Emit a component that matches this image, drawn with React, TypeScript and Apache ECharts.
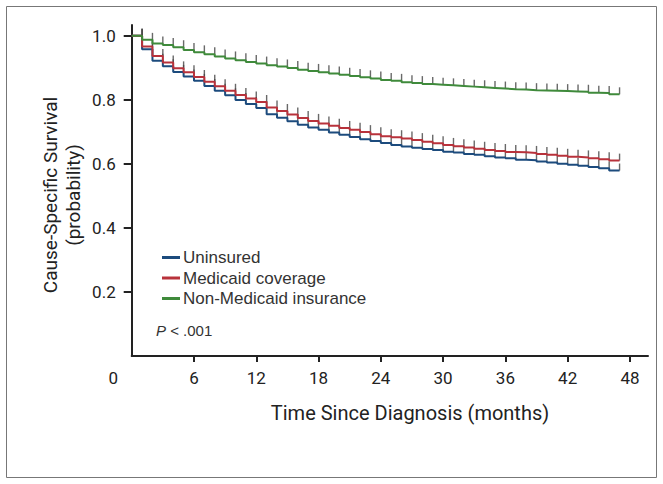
import React, { useEffect, useRef } from "react";
import * as echarts from "echarts";

// Survival level on [month i, month i+1); the last level runs to END_MONTH
const uninsured = [1.0, 0.958, 0.922, 0.905, 0.887, 0.873, 0.859, 0.843, 0.828, 0.814, 0.799, 0.787, 0.774, 0.755, 0.744, 0.733, 0.722, 0.713, 0.706, 0.698, 0.691, 0.684, 0.677, 0.671, 0.665, 0.659, 0.654, 0.65, 0.646, 0.643, 0.638, 0.635, 0.631, 0.628, 0.624, 0.62, 0.617, 0.613, 0.611, 0.607, 0.604, 0.6, 0.597, 0.594, 0.59, 0.586, 0.579];
const medicaid = [1.0, 0.966, 0.937, 0.916, 0.898, 0.886, 0.871, 0.856, 0.842, 0.828, 0.815, 0.804, 0.793, 0.776, 0.765, 0.754, 0.743, 0.734, 0.726, 0.719, 0.712, 0.706, 0.699, 0.692, 0.686, 0.683, 0.679, 0.674, 0.669, 0.664, 0.659, 0.655, 0.651, 0.647, 0.643, 0.64, 0.637, 0.636, 0.634, 0.631, 0.628, 0.625, 0.622, 0.62, 0.617, 0.614, 0.61];
const nonMedicaid = [1.0, 0.987, 0.976, 0.971, 0.964, 0.955, 0.948, 0.942, 0.935, 0.929, 0.923, 0.918, 0.913, 0.908, 0.904, 0.899, 0.894, 0.89, 0.886, 0.882, 0.878, 0.874, 0.87, 0.866, 0.862, 0.859, 0.855, 0.852, 0.849, 0.847, 0.845, 0.843, 0.841, 0.839, 0.837, 0.835, 0.833, 0.832, 0.83, 0.829, 0.828, 0.827, 0.826, 0.825, 0.822, 0.821, 0.817];
const END_MONTH = 47;

const seriesNames = ["Uninsured", "Medicaid coverage", "Non-Medicaid insurance"];
const seriesColors = ["#1c4b7d", "#b8323b", "#3f8a3b"];
const xTicks = [0, 6, 12, 18, 24, 30, 36, 42, 48];
const yTicks = [0.2, 0.4, 0.6, 0.8, 1.0];

const xTitle = "Time Since Diagnosis (months)";
const yTitle1 = "Cause-Specific Survival";
const yTitle2 = "(probability)";

function stepData(vals: number[]) {
  const d = vals.map((v, i) => [i, v]);
  d.push([END_MONTH, vals[vals.length - 1]]);
  return d;
}
function censorData(vals: number[]) {
  const d: number[][] = [];
  for (let i = 1; i < vals.length; i++) d.push([i, vals[i - 1]]);
  d.push([END_MONTH, vals[vals.length - 1]]);
  return d;
}

export default function App() {
  const ref = useRef<HTMLDivElement>(null);
  useEffect(() => {
    document.body.style.margin = "0";
    const chart = echarts.init(ref.current!, null, { renderer: "svg" });
    const all = [uninsured, medicaid, nonMedicaid];
    const series: any[] = [];
    all.forEach((vals, k) => {
      series.push({
        name: seriesNames[k],
        type: "line",
        step: "end",
        data: stepData(vals),
        symbol: "none",
        lineStyle: { color: seriesColors[k], width: 2 },
        itemStyle: { color: seriesColors[k] },
        z: 3,
      });
    });
    all.forEach((vals) => {
      series.push({
        type: "scatter",
        data: censorData(vals),
        symbol: "rect",
        symbolSize: [1.4, 7],
        symbolOffset: [0, "-50%"],
        itemStyle: { color: "#444" },
        silent: true,
        z: 2,
      });
    });
    chart.setOption({
      animation: false,
      grid: { left: 131.7, right: 15, top: 25, bottom: 128, containLabel: false },
      xAxis: {
        type: "value",
        min: 0,
        max: 49.74,
        axisLine: { show: true, lineStyle: { color: "#222", width: 2 } },
        axisTick: { show: true, length: 6, lineStyle: { color: "#222", width: 2 }, customValues: xTicks.slice(1) },
        axisLabel: {
          customValues: xTicks,
          margin: 13,
          fontSize: 17,
          fontFamily: "Roboto",
          color: "#222",
          formatter: (v: number) => (v === 0 ? "{z|0}" : String(v)),
          rich: { z: { fontSize: 17, fontFamily: "Roboto", color: "#222", padding: [0, 37, 0, 0] } },
        },
        splitLine: { show: false },
      },
      yAxis: {
        type: "value",
        min: 0,
        max: 1.0334,
        axisLine: { show: true, lineStyle: { color: "#222", width: 2 } },
        axisTick: { show: true, length: 8, lineStyle: { color: "#222", width: 2 }, customValues: yTicks },
        axisLabel: {
          customValues: yTicks,
          margin: 16,
          fontSize: 17,
          fontFamily: "Roboto",
          color: "#222",
          formatter: (v: number) => v.toFixed(1),
        },
        splitLine: { show: false },
      },
      legend: {
        data: seriesNames,
        orient: "vertical",
        left: 157,
        top: 244,
        icon: "rect",
        itemWidth: 18,
        itemHeight: 3,
        itemGap: 3.5,
        textStyle: { fontSize: 17, lineHeight: 17, fontFamily: "Liberation Sans", color: "#333", padding: [0, 0, 0, -2] },
      },
      graphic: [
        {
          type: "rect",
          shape: { x: 6.5, y: 6.5, width: 650, height: 471 },
          style: { fill: "none", stroke: "#777", lineWidth: 1 },
        },
        {
          type: "text",
          x: 156,
          y: 330,
          style: {
            text: "{i|P} < .001",
            rich: { i: { fontStyle: "italic", fontSize: 15, fontFamily: "Liberation Sans", fill: "#333" } },
            fontSize: 15,
            fontFamily: "Liberation Sans",
            fill: "#333",
            verticalAlign: "middle",
          },
        },
        {
          type: "text",
          x: 410,
          y: 413,
          style: { text: xTitle, fontSize: 20, fontFamily: "Roboto", fill: "#222", align: "center", verticalAlign: "middle" },
        },
        {
          type: "text",
          x: 50,
          y: 195,
          rotation: Math.PI / 2,
          style: { text: yTitle1, fontSize: 19, fontFamily: "Roboto", fill: "#222", align: "center", verticalAlign: "middle" },
        },
        {
          type: "text",
          x: 73,
          y: 195,
          rotation: Math.PI / 2,
          style: { text: yTitle2, fontSize: 19, fontFamily: "Roboto", fill: "#222", align: "center", verticalAlign: "middle" },
        },
      ],
      series,
    });
    return () => chart.dispose();
  }, []);
  return <div ref={ref} style={{ width: 663, height: 484 }} />;
}
